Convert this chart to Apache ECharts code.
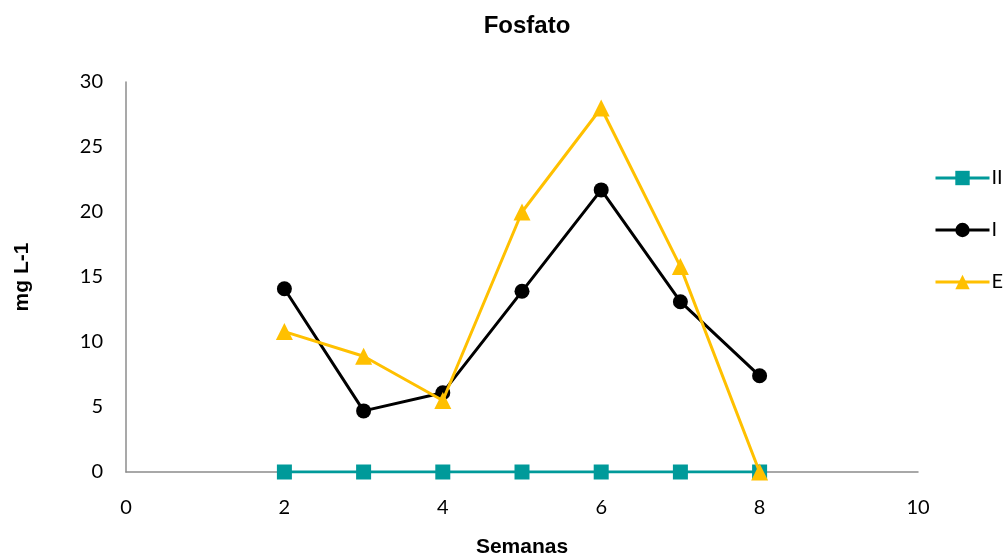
<!DOCTYPE html>
<html>
<head>
<meta charset="utf-8">
<script src="https://cdn.jsdelivr.net/npm/echarts@6/dist/echarts.min.js"></script>
<style>
  html, body { margin: 0; padding: 0; background: #fff; }
  #chart { width: 1004px; height: 557px; }
</style>
</head>
<body>
<div id="chart"></div>
<script>
// Weekly phosphate measurements (mg L-1) for the three sampling points
const weeks = [2, 3, 4, 5, 6, 7, 8];
const seriesII = [0, 0, 0, 0, 0, 0, 0];
const seriesI = [14.1, 4.7, 6.1, 13.9, 21.7, 13.1, 7.4];
const seriesE = [10.8, 8.9, 5.5, 20.0, 28.0, 15.8, 0];
const xTicks = [0, 2, 4, 6, 8, 10];
const yTicks = [0, 5, 10, 15, 20, 25, 30];

const pairs = vals => weeks.map((w, i) => [w, vals[i]]);
const tickFont = 'Lato, "Liberation Sans", sans-serif';
const boldFont = '"Liberation Sans", Arial, sans-serif';

const chart = echarts.init(document.getElementById('chart'), null, { renderer: 'canvas' });
chart.setOption({
  animation: false,
  backgroundColor: '#ffffff',
  title: {
    text: 'Fosfato',
    left: 522, top: 9, textAlign: 'center',
    textStyle: { fontFamily: boldFont, fontWeight: 'bold', fontSize: 24, color: '#000' }
  },
  grid: { left: 126, right: 86, top: 82, bottom: 85, containLabel: false, outerBoundsMode: 'none' },
  legend: {
    orient: 'vertical',
    left: 929, top: 163,
    itemGap: 32,
    itemWidth: 54, itemHeight: 18,
    lineStyle: { width: 3 },
    textStyle: { fontFamily: tickFont, fontSize: 20, color: '#000', padding: [0, 0, 0, -3] },
    data: ['II', 'I', 'E']
  },
  xAxis: {
    type: 'value', min: 0, max: 10, interval: 2,
    name: 'Semanas', nameLocation: 'middle', nameGap: 65,
    nameTextStyle: { fontFamily: boldFont, fontWeight: 'bold', fontSize: 21, color: '#000' },
    axisLine: { show: true, onZero: true, lineStyle: { color: '#8c8c8c', width: 1.5 } },
    axisTick: { show: false },
    splitLine: { show: false },
    axisLabel: {
      margin: 26, color: '#000', fontFamily: tickFont, fontSize: 20,
      formatter: v => xTicks.includes(v) ? String(v) : ''
    }
  },
  yAxis: {
    type: 'value', min: 0, max: 30, interval: 5,
    name: 'mg L-1', nameLocation: 'middle', nameGap: 93, nameRotate: 90,
    nameTextStyle: { fontFamily: boldFont, fontWeight: 'bold', fontSize: 21, color: '#000' },
    axisLine: { show: true, lineStyle: { color: '#8c8c8c', width: 1.5 } },
    axisTick: { show: false },
    splitLine: { show: false },
    axisLabel: {
      margin: 23, color: '#000', fontFamily: tickFont, fontSize: 20,
      formatter: v => yTicks.includes(v) ? String(v) : ''
    }
  },
  series: [
    {
      name: 'II', type: 'line', data: pairs(seriesII),
      symbol: 'rect', symbolSize: 15,
      lineStyle: { color: '#009a9a', width: 3 },
      itemStyle: { color: '#009a9a' }, z: 2
    },
    {
      name: 'I', type: 'line', data: pairs(seriesI),
      symbol: 'circle', symbolSize: 15,
      lineStyle: { color: '#000', width: 3 },
      itemStyle: { color: '#000' }, z: 3
    },
    {
      name: 'E', type: 'line', data: pairs(seriesE),
      symbol: 'triangle', symbolSize: 17,
      lineStyle: { color: '#ffc000', width: 3 },
      itemStyle: { color: '#ffc000' }, z: 4
    }
  ]
});
</script>
</body>
</html>
